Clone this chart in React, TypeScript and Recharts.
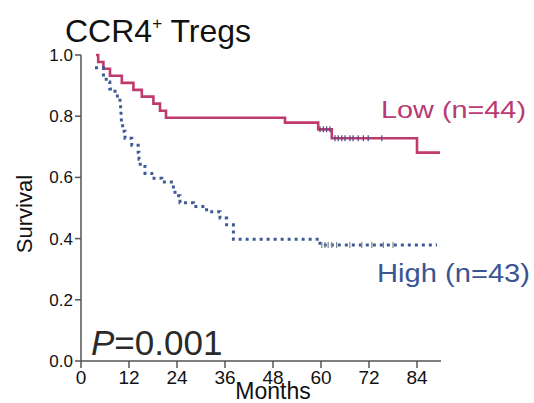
import React from 'react';
import { LineChart, Line, XAxis, YAxis, Customized } from 'recharts';

// Kaplan-Meier steps
const lowMonths = [3.75, 4.3, 5.6, 7.25, 10.2, 13.1, 15.2, 18.1, 19.75, 21.25, 51, 59.3, 62.7, 84, 89.75];
const lowSurvival = [1.0, 0.977, 0.955, 0.932, 0.909, 0.886, 0.864, 0.841, 0.818, 0.795, 0.779, 0.757, 0.728, 0.681, 0.681];

const highMonths = [3.5, 5.6, 6.3, 7.2, 8.5, 9.75, 9.9, 10.0, 10.1, 10.4, 11, 12.7, 14.3, 14.5, 14.8, 16, 17.7, 20.2, 23.1, 23.5, 24.75, 28.1, 31.4, 34.75, 36.4, 38.1, 59.75, 89];
const highSurvival = [0.958, 0.935, 0.912, 0.889, 0.866, 0.843, 0.82, 0.797, 0.774, 0.751, 0.728, 0.705, 0.682, 0.659, 0.636, 0.613, 0.597, 0.585, 0.562, 0.54, 0.517, 0.505, 0.488, 0.467, 0.445, 0.398, 0.379, 0.379];

// censored observations (tick marks)
const lowCensorMonths = [59.75, 60.6, 61.4, 62.25, 63.5, 64.3, 65.2, 66, 67.25, 68, 69.3, 70.6, 71.8, 75.2];
const lowCensorSurvival = [0.757, 0.757, 0.757, 0.757, 0.728, 0.728, 0.728, 0.728, 0.728, 0.728, 0.728, 0.728, 0.728, 0.728];
const highCensorMonths = [60.2, 61, 61.8, 62.7, 63.9, 67.2, 70.2, 72.7, 75.6, 78];
const highCensorSurvival = [0.379, 0.379, 0.379, 0.379, 0.379, 0.379, 0.379, 0.379, 0.379, 0.379];

const monthTicks = [0, 12, 24, 36, 48, 60, 72, 84];
const survivalTicks = [0, 0.2, 0.4, 0.6, 0.8, 1.0];

const toRows = (t: number[], s: number[]) => t.map((m, i) => ({ t: m, s: s[i] }));

const lowData = toRows(lowMonths, lowSurvival);
const highData = toRows(highMonths, highSurvival);
const lowCensor = toRows(lowCensorMonths, lowCensorSurvival);
const highCensor = toRows(highCensorMonths, highCensorSurvival);

const FONT = '"Liberation Sans", Arial, sans-serif';
const RED = '#c03a6e';
const BLUE = '#3d5a96';

const censorTick = (color: string) => (props: any) => {
  const { cx, cy, index } = props;
  if (cx == null || cy == null) return <g key={index} />;
  return <line key={index} x1={cx} x2={cx} y1={cy - 3} y2={cy + 3} stroke={color} strokeWidth={1.2} />;
};

const Labels = () => (
  <g fontFamily={FONT}>
    <text x={65} y={41.5} fontSize={32} fill="#111">
      CCR4
      <tspan fontSize={17} dy={-13}>+</tspan>
      <tspan dy={13}> Tregs</tspan>
    </text>
    <text x={381} y={118} fontSize={24} fill="#b83a74" textLength={145} lengthAdjust="spacingAndGlyphs">
      Low (n=44)
    </text>
    <text x={377} y={282} fontSize={25} fill="#3a5591" textLength={153} lengthAdjust="spacingAndGlyphs">
      High (n=43)
    </text>
    <text x={91} y={355} fontSize={35} fill="#2a2a2a">
      <tspan fontStyle="italic">P</tspan>=0.001
    </text>
    <text x={26} y={214} fontSize={22} fill="#111" textAnchor="middle" transform="rotate(-90 26 214)" dominantBaseline="middle">
      Survival
    </text>
    <text x={273} y={399} fontSize={23} fill="#111" textAnchor="middle">
      Months
    </text>
  </g>
);

export default function App() {
  return (
    <div style={{ position: 'absolute', left: 0, top: 0, width: 534, height: 403, background: '#fff' }}>
      <LineChart width={534} height={403} margin={{ top: 55, right: 93, bottom: 0, left: 0 }}>
        <XAxis
          type="number"
          dataKey="t"
          domain={[0, 90]}
          ticks={monthTicks}
          allowDuplicatedCategory={false}
          height={42}
          tickSize={7}
          tickMargin={3}
          stroke="#555"
          strokeWidth={1.5}
          tick={{ fontSize: 19, fill: '#111', fontFamily: FONT }}
        />
        <YAxis
          type="number"
          domain={[0, 1]}
          ticks={survivalTicks}
          width={81}
          tickSize={6}
          tickMargin={2}
          stroke="#555"
          strokeWidth={1.5}
          tickFormatter={(v: number) => v.toFixed(1)}
          tick={{ fontSize: 17, fill: '#111', fontFamily: FONT }}
        />
        <Line data={lowData} dataKey="s" type="stepAfter" stroke={RED} strokeWidth={2.6} dot={false} activeDot={false} isAnimationActive={false} />
        <Line data={highData} dataKey="s" type="stepAfter" stroke={BLUE} strokeWidth={3} strokeDasharray="3 4" dot={false} activeDot={false} isAnimationActive={false} />
        <Line data={lowCensor} dataKey="s" stroke="none" dot={censorTick('#4a4a86')} activeDot={false} isAnimationActive={false} />
        <Line data={highCensor} dataKey="s" stroke="none" dot={censorTick('#7d8c86')} activeDot={false} isAnimationActive={false} />
        <Customized component={Labels} />
      </LineChart>
    </div>
  );
}
